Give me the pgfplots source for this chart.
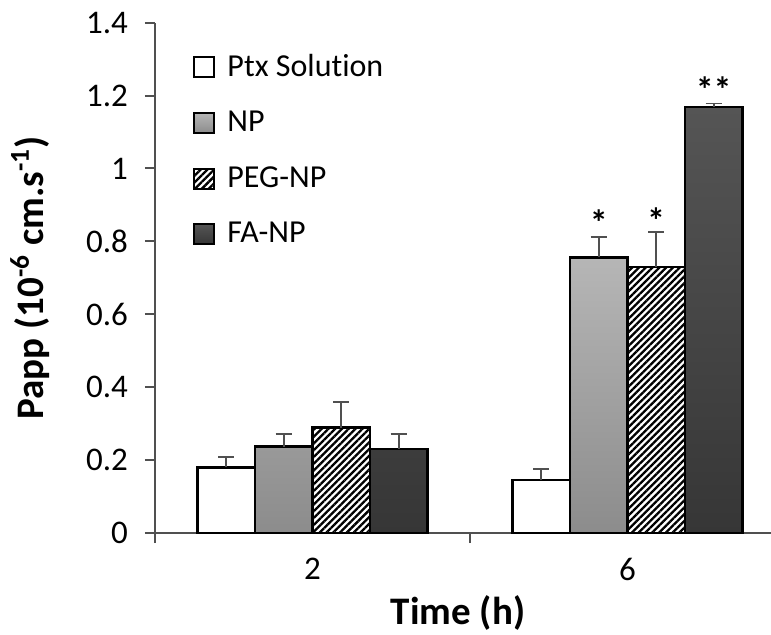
\documentclass[border=0pt]{standalone}
\usepackage{fontspec}
\setmainfont{Carlito}[Ligatures=NoCommon]
\usepackage{pgfplots}
\usepackage{pgfplotstable}
\pgfplotsset{compat=1.18}
\usetikzlibrary{patterns.meta}

\definecolor{nptop}{HTML}{B6B6B6}
\definecolor{npbot}{HTML}{8C8C8C}
\definecolor{fatop}{HTML}{555555}
\definecolor{fabot}{HTML}{363636}
\definecolor{axisgray}{HTML}{505050}

% x = 0 for 2 h, x = 1 for 6 h
\pgfplotstableread{
x  y     e
0  0.180 0.028
1  0.145 0.031
}\ptx
\pgfplotstableread{
x  y     e
0  0.237 0.034
1  0.756 0.057
}\np
\pgfplotstableread{
x  y     e
0  0.289 0.070
1  0.730 0.095
}\pegnp
\pgfplotstableread{
x  y     e
0  0.230 0.041
1  1.169 0.009
}\fanp

\pgfplotsset{
  barbox/.style={
    legend image code/.code={\draw[##1, line width=1bp] (0bp,-5bp) rectangle (10bp,5bp);},
    error bars/y dir=plus, error bars/y explicit,
    error bars/error bar style={axisgray, line width=0.9bp},
    error bars/error mark options={rotate=90, axisgray, mark size=4bp, line width=0.9bp}
  }
}

\begin{document}
\begin{tikzpicture}
\useasboundingbox (-77.5bp,-51bp) rectangle (308bp,266.5bp);
\begin{axis}[
  at={(0,0)}, anchor=south west,
  scale only axis, width=308bp, height=255.2bp,
  ybar=0pt, bar width=0.1825,
  xmin=-0.5, xmax=1.456, ymin=0, ymax=1.4,
  axis lines*=left,
  axis line style={-, axisgray, line width=1bp},
  tick style={axisgray, line width=1bp},
  tick align=outside, major tick length=5bp,
  ytick={0,0.2,0.4,0.6,0.8,1,1.2,1.4},
  xtick={-0.5,0.5}, xticklabels={},
  extra x ticks={0,1}, extra x tick labels={2,6},
  extra x tick style={major tick length=0pt},
  /pgf/number format/assume math mode=true,
  ticklabel style={font=\fontsize{16.5bp}{18bp}\selectfont},
  yticklabel style={xshift=-5bp},
  xticklabel style={yshift=-9bp},
  xlabel={\bfseries Time (h)},
  ylabel={\bfseries Papp (10\textsuperscript{-6} cm.s\textsuperscript{-1})},
  label style={font=\fontsize{19.5bp}{22bp}\selectfont},
  xlabel style={at={(axis description cs:0.492,-0.1567)}, anchor=center},
  ylabel style={at={(axis description cs:-0.2029,0.5)}, anchor=center},
  legend style={draw=none, fill=none, at={(rel axis cs:0,1)}, anchor=north west,
    xshift=19bp, yshift=-13.5bp, inner sep=0pt,
    font=\fontsize{16bp}{18bp}\selectfont, row sep=12bp,
    /tikz/every odd column/.append style={column sep=4bp}},
  legend cell align=left,
]
\addplot[barbox, draw=black, line width=1.2bp, fill=white]
  table[x=x, y=y, y error=e] {\ptx};
\addlegendentry{Ptx Solution}
\addplot[barbox, draw=black, line width=1.2bp, top color=nptop, bottom color=npbot]
  table[x=x, y=y, y error=e] {\np};
\addlegendentry{NP}
\addplot[barbox, draw=black, line width=1.2bp, pattern={Lines[angle=45, distance=2.4bp, line width=1.15bp]}]
  table[x=x, y=y, y error=e] {\pegnp};
\addlegendentry{PEG-NP}
\addplot[barbox, draw=black, line width=1.2bp, top color=fatop, bottom color=fabot]
  table[x=x, y=y, y error=e] {\fanp};
\addlegendentry{FA-NP}

\node[font=\bfseries\fontsize{18bp}{18bp}\selectfont] at (axis cs:0.909,0.85) {*};
\node[font=\bfseries\fontsize{18bp}{18bp}\selectfont] at (axis cs:1.091,0.858) {*};
\node[font=\bfseries\fontsize{18bp}{18bp}\selectfont] at (axis cs:1.274,1.215) {**};
\end{axis}
\end{tikzpicture}
\end{document}
